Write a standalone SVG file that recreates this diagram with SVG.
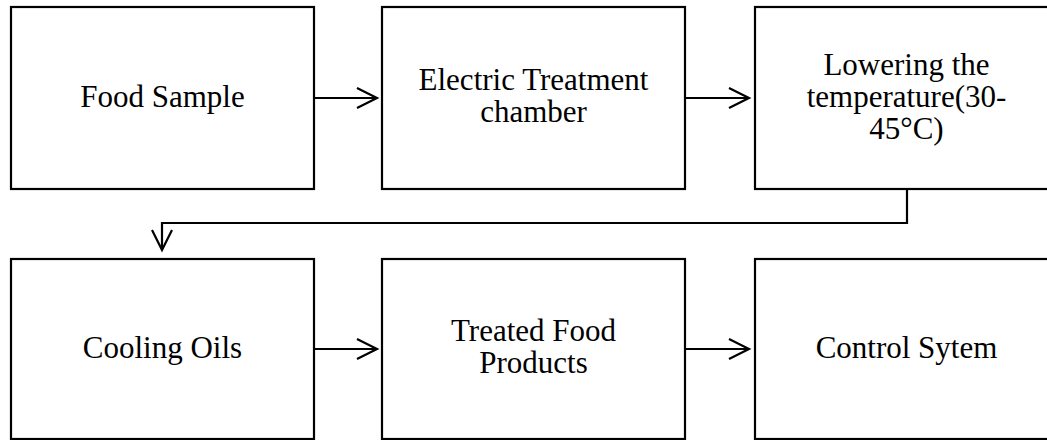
<svg xmlns="http://www.w3.org/2000/svg" width="1047" height="440" viewBox="0 0 1047 440">
  <style>
    .box { fill: #ffffff; stroke: #000000; stroke-width: 2.2; }
    .label { font-family: "Liberation Serif", "Times New Roman", serif; font-size: 31px; fill: #000000; text-anchor: middle; }
    .link { fill: none; stroke: #000000; stroke-width: 2.2; }
    .head { fill: none; stroke: #000000; stroke-width: 2.2; stroke-linejoin: miter; }
  </style>
  <rect width="1047" height="440" fill="#ffffff"/>

  <g id="node-food-sample">
    <rect class="box" x="11" y="7" width="303" height="182"/>
    <text class="label" x="162.5" y="107">Food Sample</text>
  </g>
  <g id="node-electric-treatment">
    <rect class="box" x="382" y="7" width="303" height="182"/>
    <text class="label" x="533.5" y="90">Electric Treatment</text>
    <text class="label" x="533.5" y="122">chamber</text>
  </g>
  <g id="node-lowering-temperature">
    <rect class="box" x="755" y="7" width="303" height="182"/>
    <text class="label" x="906.5" y="75">Lowering the</text>
    <text class="label" x="906.5" y="107">temperature(30-</text>
    <text class="label" x="906.5" y="139">45°C)</text>
  </g>
  <g id="node-cooling-oils">
    <rect class="box" x="11" y="259" width="303" height="180"/>
    <text class="label" x="162.5" y="358">Cooling Oils</text>
  </g>
  <g id="node-treated-food">
    <rect class="box" x="382" y="259" width="303" height="180"/>
    <text class="label" x="533.5" y="341">Treated Food</text>
    <text class="label" x="533.5" y="373">Products</text>
  </g>
  <g id="node-control-system">
    <rect class="box" x="755" y="259" width="303" height="180"/>
    <text class="label" x="906.5" y="358">Control Sytem</text>
  </g>

  <g id="connectors">
    <!-- top row -->
    <line class="link" x1="314" y1="98" x2="376" y2="98"/>
    <polyline class="head" points="357,88 377,98 357,108"/>
    <line class="link" x1="685" y1="98" x2="748" y2="98"/>
    <polyline class="head" points="729,88 749,98 729,108"/>
    <!-- return path to second row -->
    <polyline class="link" points="907,189 907,223 162,223 162,249"/>
    <polyline class="head" points="152,230 162,250 172,230"/>
    <!-- bottom row -->
    <line class="link" x1="314" y1="349" x2="376" y2="349"/>
    <polyline class="head" points="357,339 377,349 357,359"/>
    <line class="link" x1="685" y1="349" x2="748" y2="349"/>
    <polyline class="head" points="729,339 749,349 729,359"/>
  </g>
</svg>
